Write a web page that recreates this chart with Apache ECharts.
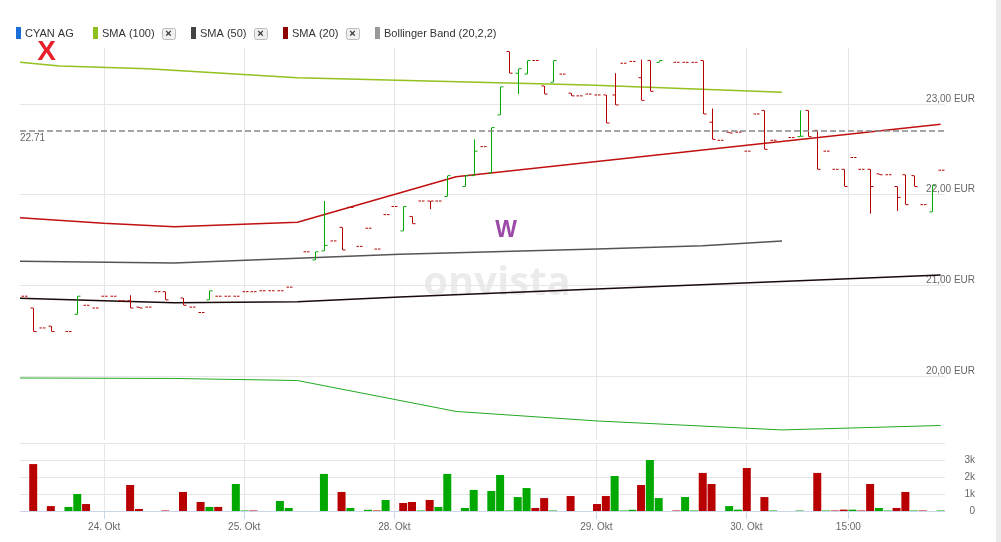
<!DOCTYPE html>
<html><head><meta charset="utf-8">
<script src="https://cdn.jsdelivr.net/npm/echarts@6/dist/echarts.min.js"></script>
<style>html,body{margin:0;padding:0;background:#fff;overflow:hidden}#c{width:1001px;height:542px}</style>
</head><body><div id="c"></div>
<script>
// ---- price bars (one slot per bar, null = no bar) ----
const opens  = [20.88,20.75,20.53,20.55,null,20.49,20.68,20.78,20.75,20.88,20.88,20.83,20.83,20.76,20.76,20.93,20.93,null,20.86,20.76,20.70,20.84,20.88,20.88,20.88,20.93,20.93,20.94,20.94,20.94,20.98,null,21.37,21.28,21.38,21.49,21.64,21.86,21.43,21.63,21.40,21.78,21.87,21.60,21.76,21.93,21.93,21.93,21.98,null,22.09,22.21,22.53,22.24,22.88,23.58,23.34,23.33,23.48,23.20,23.24,23.33,23.12,23.09,23.11,23.10,23.10,23.10,23.45,23.47,23.29,23.48,23.46,null,23.46,23.46,23.46,23.48,22.80,22.60,22.69,22.69,22.48,22.89,22.93,22.60,null,22.63,22.64,22.93,22.71,22.48,22.28,22.28,22.41,22.28,22.28,22.23,22.22,22.09,22.22,22.21,21.89,21.81,22.27];
const highs  = [20.88,20.75,20.53,20.55,null,20.49,20.88,20.78,20.75,20.88,20.88,20.83,20.89,20.76,20.76,20.93,20.93,null,20.86,20.76,20.70,20.94,20.88,20.88,20.88,20.93,20.93,20.94,20.94,20.94,20.98,null,21.37,21.37,21.93,21.49,21.64,21.86,21.43,21.63,21.40,21.78,21.87,21.87,21.76,21.93,21.93,21.93,22.21,null,22.21,22.61,22.53,22.74,23.19,23.58,23.39,23.48,23.48,23.20,23.48,23.33,23.12,23.09,23.11,23.10,23.10,23.34,23.45,23.47,23.49,23.48,23.48,null,23.46,23.46,23.46,23.48,22.95,22.60,22.69,22.69,22.48,22.89,22.93,22.60,null,22.63,22.93,22.93,22.71,22.48,22.28,22.28,22.41,22.28,22.28,22.23,22.22,22.09,22.22,22.21,21.89,22.10,22.27];
const lows   = [20.88,20.49,20.53,20.49,null,20.49,20.68,20.78,20.75,20.88,20.88,20.83,20.75,20.75,20.76,20.93,20.84,null,20.78,20.76,20.70,20.84,20.88,20.88,20.88,20.93,20.93,20.94,20.94,20.94,20.98,null,21.37,21.28,21.38,21.49,21.39,21.86,21.43,21.63,21.40,21.78,21.87,21.60,21.68,21.93,21.84,21.93,21.98,null,22.09,22.21,22.53,22.24,22.88,23.34,23.11,23.33,23.48,23.11,23.24,23.33,23.09,23.09,23.11,23.10,22.79,22.99,23.45,23.47,23.04,23.14,23.46,null,23.46,23.46,23.46,22.89,22.61,22.60,22.68,22.69,22.48,22.89,22.50,22.60,null,22.63,22.64,22.64,22.28,22.48,22.28,22.09,22.41,22.28,21.79,22.22,22.22,21.82,21.89,22.09,21.89,21.81,22.27];
const closes = [20.88,20.49,20.53,20.49,null,20.49,20.88,20.78,20.75,20.88,20.88,20.83,20.75,20.75,20.76,20.93,20.84,null,20.78,20.76,20.70,20.94,20.88,20.88,20.88,20.93,20.93,20.94,20.94,20.94,20.98,null,21.37,21.37,21.44,21.49,21.39,21.86,21.43,21.63,21.40,21.78,21.87,21.87,21.68,21.93,21.93,21.93,22.21,null,22.21,22.48,22.53,22.74,23.19,23.34,23.39,23.48,23.48,23.11,23.48,23.33,23.09,23.09,23.11,23.10,22.79,22.99,23.45,23.47,23.04,23.14,23.48,null,23.46,23.46,23.46,22.89,22.61,22.60,22.68,22.69,22.48,22.89,22.50,22.60,null,22.63,22.645,22.64,22.28,22.48,22.28,22.09,22.41,22.28,22.09,22.22,22.22,21.97,21.89,22.09,21.89,22.10,22.27];

// ---- volume per slot (null = none) and its colour direction (1 up, -1 down) ----
const volumes = [null,2760,null,290,null,240,1000,410,null,null,null,null,1530,120,null,null,30,null,1120,null,530,240,240,null,1590,30,30,null,null,590,180,null,null,null,2180,null,1120,180,null,70,30,650,null,470,530,30,650,240,2180,null,180,1240,null,1180,2120,30,820,1350,180,760,30,null,880,null,null,410,880,2060,30,70,1530,3000,760,null,30,820,30,2240,1590,null,290,80,2530,null,820,30,null,null,30,null,2240,30,30,80,80,30,1590,180,30,180,1120,30,30,null,30];
const volumeDir = [0,-1,0,-1,0,1,1,-1,0,0,0,0,-1,-1,0,0,-1,0,-1,0,-1,1,-1,0,1,1,-1,0,0,1,1,0,0,0,1,0,-1,1,0,1,-1,1,0,-1,-1,1,-1,1,1,0,1,1,0,1,1,1,1,1,-1,-1,1,0,-1,0,0,-1,-1,1,1,1,-1,1,1,0,-1,1,1,-1,-1,0,1,1,-1,0,-1,1,0,0,1,0,-1,1,-1,-1,1,-1,-1,1,1,-1,-1,1,-1,0,1];

// ---- indicator lines (slot position, value) ----
const sma100Slots = [-0.5, 4, 14, 31, 64, 86];
const sma100Vals  = [23.46, 23.42, 23.39, 23.29, 23.21, 23.13];
const sma50Slots  = [-0.5, 17, 31, 42.6, 65, 77, 86];
const sma50Vals   = [21.265, 21.246, 21.298, 21.342, 21.40, 21.437, 21.49];
const sma20Slots  = [-0.5, 9, 17, 31, 49, 104];
const sma20Vals   = [21.746, 21.684, 21.647, 21.695, 22.198, 22.776];
const bandMidSlots = [-0.5, 9, 17, 31, 42.6, 104];
const bandMidVals  = [20.857, 20.831, 20.808, 20.820, 20.871, 21.114];
const bandLowSlots = [-0.5, 17, 31, 49, 65, 86, 104];
const bandLowVals  = [19.978, 19.973, 19.95, 19.609, 19.504, 19.405, 19.454];

const refLevel = 22.71;
const priceTicks = [20, 21, 22, 23];
const tickSlots  = [9.06, 24.95, 41.99, 64.92, 81.95, 93.53];
const tickLabels = ['24. Okt', '25. Okt', '28. Okt', '29. Okt', '30. Okt', '15:00'];

const UP = '#00a800', DOWN = '#b80000';
const FONT = '"Liberation Sans", Arial, sans-serif';

const ohlcData = [];
opens.forEach((o, i) => { if (o != null) ohlcData.push([i, o, highs[i], lows[i], closes[i]]); });
const volData = [];
volumes.forEach((v, i) => { if (v != null) volData.push({ value: [i, v], dir: volumeDir[i] }); });
const pairs = (s, v) => s.map((x, i) => [x, v[i]]);

function renderOHLC(params, api) {
  const i = api.value(0), o = api.value(1), h = api.value(2), l = api.value(3), c = api.value(4);
  const po = api.coord([i, o]), ph = api.coord([i, h]), pl = api.coord([i, l]), pc = api.coord([i, c]);
  const x = Math.round(po[0]) + 0.5;
  const style = { stroke: c > o ? UP : DOWN, lineWidth: 1 };
  const ch = [];
  if (Math.abs(ph[1] - pl[1]) > 0.6) ch.push({ type: 'line', shape: { x1: x, y1: ph[1], x2: x, y2: pl[1] }, style });
  ch.push({ type: 'line', shape: { x1: x - 3, y1: po[1], x2: x - 0.5, y2: po[1] }, style });
  ch.push({ type: 'line', shape: { x1: x + 0.5, y1: pc[1], x2: x + 3, y2: pc[1] }, style });
  return { type: 'group', children: ch };
}

function legendItem(x, color, label, withBox, boxX) {
  const els = [
    { type: 'rect', left: x, top: 27, shape: { width: 5, height: 12 }, style: { fill: color } },
    { type: 'text', left: x + 9, top: 27, style: { text: label, font: '11px ' + FONT, fill: '#333', lineHeight: 13 } }
  ];
  if (withBox) {
    els.push({ type: 'rect', left: boxX, top: 28, shape: { width: 13, height: 11, r: 2 }, style: { fill: '#f0f0f0', stroke: '#bbb', lineWidth: 1 } });
    els.push({ type: 'text', x: boxX + 6.5, y: 33.5, style: { text: '×', font: 'bold 11px ' + FONT, fill: '#333', align: 'center', verticalAlign: 'middle' } });
  }
  return els;
}

const chart = echarts.init(document.getElementById('c'), null, { renderer: 'canvas' });
const xBase = { type: 'value', min: -0.5, max: 104.5 };
chart.setOption({
  animation: false,
  textStyle: { fontFamily: FONT },
  grid: [
    { left: 20, right: 56, top: 48, bottom: 102 },
    { left: 20, right: 56, top: 443, bottom: 31 }
  ],
  xAxis: [
    Object.assign({}, xBase, { gridIndex: 0, axisLine: { show: false }, axisTick: { show: false, customValues: tickSlots },
      axisLabel: { show: false, customValues: tickSlots }, splitLine: { show: true, lineStyle: { color: '#e6e6e6', width: 1 } } }),
    Object.assign({}, xBase, { gridIndex: 1, axisLine: { show: true, lineStyle: { color: '#ccd6eb' } },
      axisTick: { show: true, length: 8, customValues: tickSlots, lineStyle: { color: '#ccd6eb' } },
      axisLabel: { customValues: tickSlots, margin: 11, color: '#666', fontSize: 10,
        formatter: v => { let k = 0, d = 1e9; tickSlots.forEach((t, j) => { if (Math.abs(t - v) < d) { d = Math.abs(t - v); k = j; } }); return tickLabels[k]; } },
      splitLine: { show: true, lineStyle: { color: '#e6e6e6', width: 1 } } })
  ],
  yAxis: [
    { type: 'value', gridIndex: 0, position: 'right', min: 19.294, max: 23.618, scale: true,
      axisLine: { show: false }, axisTick: { show: false, customValues: priceTicks },
      axisLabel: { customValues: priceTicks, align: 'right', verticalAlign: 'bottom', margin: 30, color: '#666', fontSize: 10,
        formatter: v => v.toFixed(2).replace('.', ',') + ' EUR' },
      splitLine: { show: true, lineStyle: { color: '#e6e6e6', width: 1 } } },
    { type: 'value', gridIndex: 1, position: 'right', min: 0, max: 4000, interval: 1000,
      axisLine: { show: false }, axisTick: { show: false },
      axisLabel: { showMaxLabel: false, align: 'right', margin: 30, color: '#666', fontSize: 10, padding: [0, 0, 4, 0],
        formatter: v => v === 0 ? '0' : (v / 1000) + 'k' },
      splitLine: { show: true, lineStyle: { color: '#e6e6e6', width: 1 } } }
  ],
  graphic: [
    { type: 'text', x: 497, y: 284, z: 0, silent: true,
      style: { text: 'onvista', font: 'bold 40px "Open Sans", ' + FONT, fill: 'rgba(0,0,0,0.08)', align: 'center', verticalAlign: 'middle' } },
    { type: 'rect', left: 996, top: 0, z: 100, shape: { width: 5, height: 542 }, style: { fill: '#ebebeb' } },
    { type: 'rect', left: 16, top: 27, shape: { width: 5, height: 12 }, style: { fill: '#1a6ed6' } },
    { type: 'text', left: 25, top: 27, style: { text: 'CYAN AG', font: '11px ' + FONT, fill: '#333', lineHeight: 13 } },
    ...legendItem(93, '#8cc11f', 'SMA (100)', true, 162),
    ...legendItem(191, '#444444', 'SMA (50)', true, 254),
    ...legendItem(283, '#8b0000', 'SMA (20)', true, 346),
    ...legendItem(375, '#999999', 'Bollinger Band (20,2,2)', false, 0),
    { type: 'text', x: 46.5, y: 52.5, z: 50, style: { text: 'X', font: 'bold 28px ' + FONT, fill: '#e8202a', align: 'center', verticalAlign: 'middle' } },
    { type: 'text', x: 506, y: 231, z: 50, style: { text: 'W', font: 'bold 23px ' + FONT, fill: '#9b4aa8', align: 'center', verticalAlign: 'middle' } }
  ],
  series: [
    { type: 'line', name: 'Bollinger lower', xAxisIndex: 0, yAxisIndex: 0, data: pairs(bandLowSlots, bandLowVals), showSymbol: false,
      lineStyle: { color: '#22aa22', width: 1 }, z: 3,
      markLine: { silent: true, symbol: 'none', data: [{ yAxis: refLevel }],
        lineStyle: { color: '#888', type: [6, 3], width: 1.5 },
        label: { position: 'insideStartBottom', formatter: '22.71', color: '#666', fontSize: 10, distance: [0, 3] } } },
    { type: 'line', name: 'Bollinger mid', xAxisIndex: 0, yAxisIndex: 0, data: pairs(bandMidSlots, bandMidVals), showSymbol: false,
      lineStyle: { color: '#1a0a0a', width: 1.5 }, z: 3 },
    { type: 'line', name: 'SMA (50)', xAxisIndex: 0, yAxisIndex: 0, data: pairs(sma50Slots, sma50Vals), showSymbol: false,
      lineStyle: { color: '#555555', width: 1.5 }, z: 3 },
    { type: 'line', name: 'SMA (100)', xAxisIndex: 0, yAxisIndex: 0, data: pairs(sma100Slots, sma100Vals), showSymbol: false,
      lineStyle: { color: '#93c11f', width: 1.5 }, z: 3 },
    { type: 'line', name: 'SMA (20)', xAxisIndex: 0, yAxisIndex: 0, data: pairs(sma20Slots, sma20Vals), showSymbol: false,
      lineStyle: { color: '#c01010', width: 1.5 }, z: 3 },
    { type: 'custom', name: 'CYAN AG', xAxisIndex: 0, yAxisIndex: 0, renderItem: renderOHLC, data: ohlcData,
      encode: { x: 0, y: [1, 2, 3, 4] }, clip: true, z: 4 },
    { type: 'bar', name: 'Volumen', xAxisIndex: 1, yAxisIndex: 1, barWidth: 8, data: volData,
      itemStyle: { color: p => p.data.dir > 0 ? UP : DOWN } }
  ]
});
</script></body></html>
